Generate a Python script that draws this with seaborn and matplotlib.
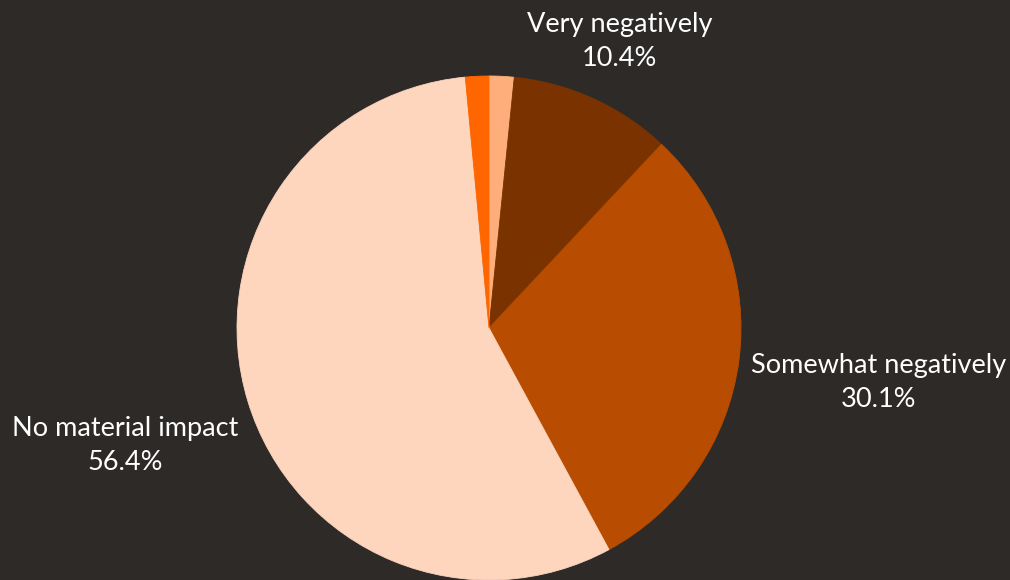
import numpy as np
import matplotlib
matplotlib.use("Agg")
import matplotlib.pyplot as plt
import seaborn as sns

# Survey responses, clockwise from 12 o'clock
categories = ["Somewhat positively", "Very negatively", "Somewhat negatively",
              "No material impact", "Very positively"]
shares = [1.6, 10.4, 30.1, 56.4, 1.5]
show_label = [False, True, True, True, False]

colors = ["#fdae7b", "#7a3300", "#b84c00", "#fed5bd", "#ff6600"]
label_radius = [0, 1.25, 1.56, 1.51]
label_dy = [0, 0, -3, -5]  # small vertical nudges, in points
bg = "#2d2a28"

sns.set_theme(style="dark", rc={"axes.facecolor": bg, "figure.facecolor": bg})
plt.rcParams["font.family"] = ["Lato", "DejaVu Sans"]

fig = plt.figure(figsize=(10.1, 5.8), dpi=100)
ax = fig.add_axes([0, 0, 1, 1])
ax.set_facecolor(bg)

wedges, _ = ax.pie(shares, colors=colors, startangle=90, counterclock=False,
                   radius=1.0, center=(0, 0),
                   wedgeprops=dict(linewidth=0.6, edgecolor=bg, antialiased=True))
for w, c in zip(wedges, colors):
    w.set_edgecolor(c)

for i, (w, name, val, show) in enumerate(zip(wedges, categories, shares, show_label)):
    if not show:
        continue
    mid = np.deg2rad((w.theta1 + w.theta2) / 2)
    r = label_radius[i]
    ax.annotate(f"{name}\n{val:.1f}%", xy=(r * np.cos(mid), r * np.sin(mid)),
                xytext=(0, label_dy[i]), textcoords="offset points",
                ha="center", va="center", fontsize=19.5, color="#ffffff",
                linespacing=1.46)

# pixel-exact framing: 252 px per unit on both axes
ax.set_xlim(-489 / 252, (1010 - 489) / 252)
ax.set_ylim(-1.0, (580 - 252) / 252)
ax.set_aspect("auto")
ax.axis("off")

fig.savefig("out.png", dpi=100, facecolor=bg)
